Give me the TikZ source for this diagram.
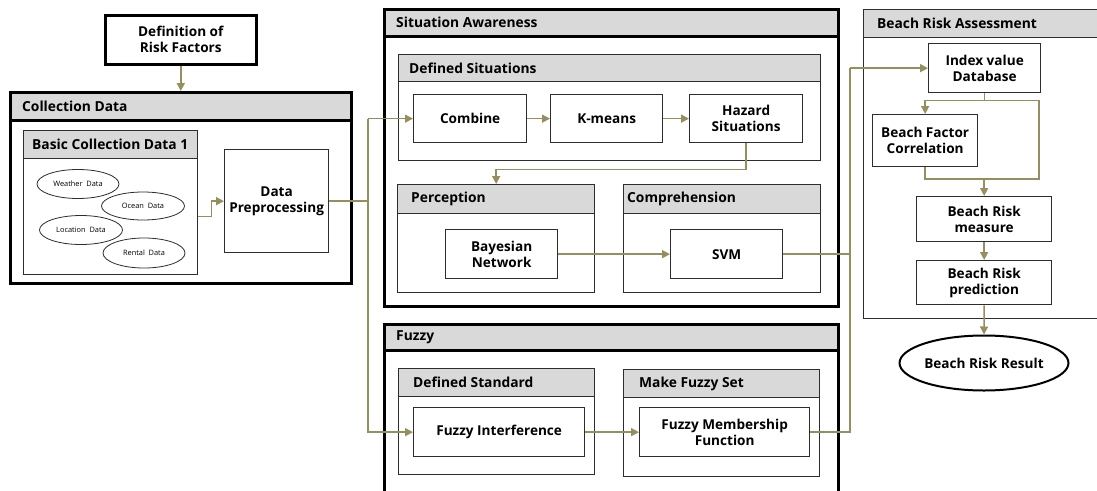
\documentclass[tikz,border=0pt]{standalone}
\usepackage{fontspec}
\setmainfont{Open Sans}
\setsansfont{Open Sans}
\usetikzlibrary{arrows.meta,calc,shapes.geometric}

\definecolor{flow}{RGB}{150,142,95}
\definecolor{band}{RGB}{217,217,217}
\definecolor{edge}{RGB}{45,45,45}

\tikzset{
  heavy/.style={draw=black, line width=2.6pt},
  light/.style={draw=edge, line width=1.3pt},
  thin/.style={draw=edge, line width=0.8pt},
  hdr/.style={fill=band},
  hdrtext/.style={font=\sffamily\bfseries\fontsize{13.8}{15}\selectfont, inner sep=0pt},
  stepbox/.style={light, fill=white, inner sep=1pt, align=center,
    font=\sffamily\bfseries\fontsize{13.6}{16}\selectfont},
  datum/.style={ellipse, thin, inner sep=0pt, font=\sffamily\fontsize{7.4}{8}\selectfont},
  wire/.style={draw=flow, line width=1.6pt},
  arr/.style={wire, -{Triangle[length=8pt,width=8pt]}},
}

% titled panel: name, style, x, y, width, height, band height, title offset, title
\newcommand\panel[9]{%
  \node[#2, anchor=north west, inner sep=0pt, minimum width=#5pt, minimum height=#6pt] (#1) at (#3,#4) {};
  \node[#2, hdr, anchor=north west, inner sep=0pt, minimum width=#5pt, minimum height=#7pt] (#1-h) at (#3,#4) {};
  \node[hdrtext, anchor=west] (#1-t) at ($(#1-h.west)+(#8,0)$) {#9};
}
% plain box: name, x, y, width, height, text
\newcommand\stepat[6]{%
  \node[stepbox, anchor=north west, minimum width=#4pt, minimum height=#5pt] (#1) at (#2,#3) {#6};
}

\begin{document}
\begin{tikzpicture}[x=1pt, y=-1pt]
\clip (0,0) rectangle (1097,490);
\fill[white] (0,0) rectangle (1097,490);

% ---------- left column ----------
\node[heavy, fill=white, anchor=north west, inner sep=0pt, minimum width=151pt, minimum height=49pt,
      align=center, font=\sffamily\bfseries\fontsize{13.6}{16}\selectfont] (def) at (104,14) {Definition of\\Risk Factors};

\panel{cd}{heavy}{9}{91}{341}{191}{28}{13}{Collection Data}
\panel{bcd}{light}{23}{130}{174}{144}{28}{9}{Basic Collection Data 1}

\node[datum, minimum width=82pt, minimum height=29pt] (wx) at (78,184) {Weather\ \ Data};
\node[datum, minimum width=83pt, minimum height=28pt] (oc) at (143,206) {Ocean\ \ Data};
\node[datum, minimum width=83pt, minimum height=29pt] (lc) at (81,230) {Location\ \ Data};
\node[datum, minimum width=82pt, minimum height=30pt] (rt) at (144,253) {Rental\ \ Data};

\stepat{dp}{224}{149}{104}{103}{Data\\Preprocessing}

% ---------- situation awareness ----------
\panel{sa}{heavy}{383}{8}{454}{297}{27}{13}{Situation Awareness}
\panel{ds}{light}{398}{54}{422}{106}{27}{11}{Defined Situations}
\stepat{comb}{413}{94}{113}{48}{Combine}
\stepat{km}{550}{94}{112}{48}{K-means}
\stepat{hz}{689}{94}{113}{48}{Hazard\\Situations}

\panel{pc}{light}{397}{184}{197}{108}{29}{14}{Perception}
\panel{cp}{light}{623}{184}{197}{108}{29}{4}{Comprehension}
\stepat{bn}{445}{229}{112}{49}{Bayesian\\Network}
\stepat{svm}{670}{229}{112}{49}{SVM}

% ---------- fuzzy ----------
\panel{fz}{heavy}{383}{323}{454}{200}{26}{13}{Fuzzy}
\panel{dst}{light}{398}{368}{196}{106}{28}{15}{Defined Standard}
\panel{mfs}{light}{623}{369}{196}{107}{28}{16}{Make Fuzzy Set}
\stepat{fi}{413}{407}{171}{49}{Fuzzy Interference}
\stepat{fmf}{639}{407}{170}{49}{Fuzzy Membership\\Function}

% ---------- beach risk assessment ----------
\panel{bra}{light}{863}{9}{240}{309}{28}{14}{Beach Risk Assessment}
\stepat{idx}{928}{43}{112}{49}{Index value\\Database}
\stepat{bfc}{872}{114}{105}{52}{Beach Factor\\Correlation}
\stepat{meas}{916}{196}{135}{45}{Beach Risk\\measure}
\stepat{pred}{916}{260}{135}{44}{Beach Risk\\prediction}
\node[ellipse, draw=black, line width=2pt, minimum width=152pt, minimum height=55pt, inner sep=0pt,
      font=\sffamily\bfseries\fontsize{13.6}{15}\selectfont] (res) at (984,363) {Beach Risk Result};

% ---------- connectors ----------
\draw[arr] (def.south) -- (def.south |- cd.north);
\draw[arr] ($(bcd.east)+(0,14)$) -- ++(13,0) |- (dp.west);

% left bus
\coordinate (busL) at (368,0);
\draw[wire] (dp.east) -- (dp.east -| busL);
\draw[arr] (comb.west -| busL) -- (comb.west);
\draw[arr] (comb.west -| busL) |- (fi.west);

\draw[arr] (comb.east) -- (km.west);
\draw[arr] (km.east) -- (hz.west);
\draw[arr] (hz.south) -- ++(0,26) -| (pc.north);
\draw[arr] (bn.east) -- (svm.west);
\draw[arr] (fi.east) -- (fmf.west);

% right bus
\coordinate (busR) at (850,0);
\draw[wire] (svm.east) -- (svm.east -| busR);
\draw[wire] (fmf.east) -| (idx.west -| busR);
\draw[arr] (idx.west -| busR) -- (idx.west);

% assessment chain
\draw[wire] (idx.south) -- ++(0,7) coordinate (j1);
\coordinate (j2) at (1039,179);
\draw[arr] (j1) -| (bfc.north);
\draw[wire] (j1) -| (j2) -| (bfc.south);
\draw[arr] (meas.north |- j2) -- (meas.north);
\draw[arr] (meas.south) -- (pred.north);
\draw[arr] (pred.south) -- (res.north);
\end{tikzpicture}
\end{document}
